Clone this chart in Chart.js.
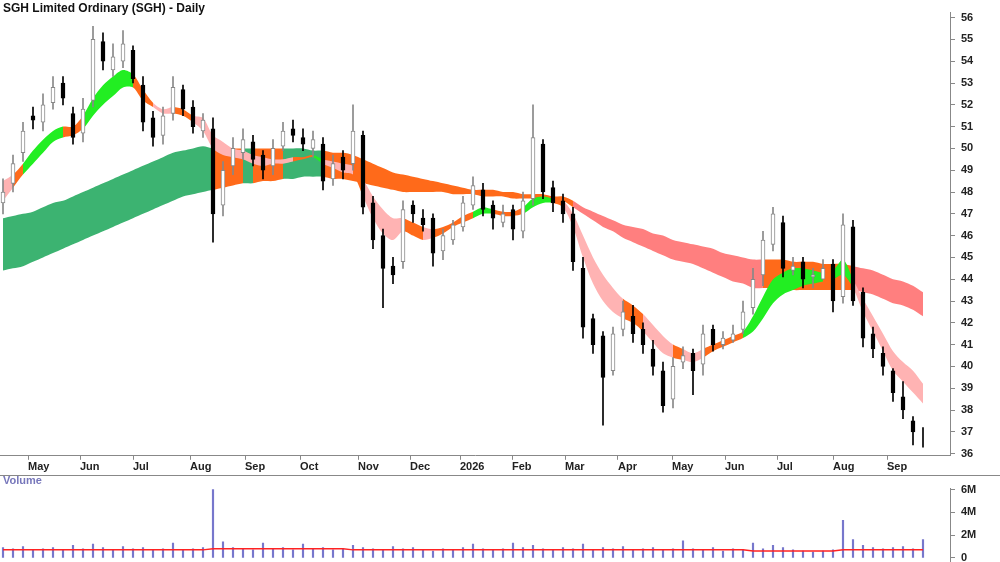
<!DOCTYPE html>
<html><head><meta charset="utf-8">
<script src="https://cdn.jsdelivr.net/npm/chart.js@4/dist/chart.umd.min.js"></script>
<style>
html,body{margin:0;padding:0;background:#fff;width:1000px;height:562px;overflow:hidden;font-family:"Liberation Sans",Arial,sans-serif}
#p{position:absolute;left:0;top:0;width:1000px;height:475px}
#v{position:absolute;left:0;top:475px;width:1000px;height:100px;border-top:1px solid #888;box-sizing:border-box}
#title{position:absolute;left:3px;top:1px;font-size:12px;font-weight:bold;color:#111}
#vol{position:absolute;left:3px;top:474px;font-size:11px;font-weight:bold;color:#7777bb}
</style></head><body>
<div id="p"><canvas id="pc"></canvas></div>
<div id="v"><canvas id="vc"></canvas></div>
<div id="title">SGH Limited Ordinary (SGH) - Daily</div>
<div id="vol">Volume</div>
<script>
const closes=[48,49.3,50.8,51.3,52,52.8,52.3,50.5,51.8,55,54,54.2,54.8,53.2,51.2,50.5,51.5,52.8,51.8,51,51.3,47,49,50,50.4,49.5,49,50,50.8,50.6,50.2,50.4,48.5,49.3,49,50.8,47.3,45.8,44.5,44.2,47.2,47,46.5,45.2,46,46.5,47.5,48.3,47.2,46.8,47,46.3,47.6,50.5,48,47.5,47,44.8,41.8,41,39.5,41.5,42.5,41.5,41,40,38.2,40,40.5,39.8,41.5,41,41.3,41.5,42.5,44,45.8,47,44.5,44.6,44,44.2,44.5,43,46.5,43,41.3,40.8,40,38.8,38,37,36.8];
const opens=[47.5,48.4,49.8,51.5,51.2,52.1,53,51.6,50.7,52.2,54.9,53.6,54,54.5,52.9,51.4,50.6,51.6,52.7,51.9,50.8,50.9,47.4,49.2,49.8,50.3,49.7,49.2,50.1,50.9,50.5,50,50.2,48.6,49.6,49.3,50.6,47.5,46,44.6,44.8,47.4,46.8,46.8,45.3,45.8,46.4,47.4,48.1,47.4,46.6,47.2,46.2,47.7,50.2,48.2,47.6,47,44.5,42.2,41.4,39.8,41.7,42.3,41.7,40.8,39.8,38.5,40.2,40.6,40.1,41.7,41,41.2,41.7,42.7,44.2,45.6,46.6,44.4,44.8,44.1,44,44.7,43.2,46.4,43.4,41.5,40.6,39.8,38.6,37.5];
const highs=[48.6,49.7,51.2,51.9,52.5,53.3,53.3,51.9,52.3,55.6,55.3,54.8,55.4,54.7,53.3,51.7,51.9,53.3,52.9,52.2,51.6,51.4,49.4,50.5,50.9,50.6,49.9,50.4,51.2,51.3,50.9,50.8,50.5,49.7,49.9,52,50.8,47.8,46.3,45,47.6,47.6,47.2,47,46.3,46.7,47.8,48.7,48.4,47.6,47.4,47.4,48,52,50.4,48.5,47.9,47.3,45,42.4,41.6,41.8,43,42.8,42,41.2,40.2,40.4,40.9,40.8,41.9,41.9,41.6,41.9,43,44.5,46.2,47.3,46.9,45,45,44.5,44.9,44.9,47,46.7,43.6,41.8,40.9,39.9,39.3,37.7,37.2];
const lows=[47,48,49.4,50.9,50.8,51.8,52,50.2,50.3,51.9,53.6,53.3,53.7,53,50.8,50.1,50.2,51.3,51.5,50.7,50.5,45.7,46.9,48.8,49.5,49.2,48.6,48.8,49.9,50.3,49.9,49.6,48.1,48.3,48.6,49,47,45.4,42.7,43.8,44.5,46.6,46.2,44.6,44.9,45.6,46.2,47.2,46.9,46.3,46.4,45.8,45.9,47.4,47.7,47.1,46.6,44.4,41.3,40.6,37.3,39.6,41.4,41.1,40.6,39.6,37.9,38.1,39.9,38.7,39.6,40.7,40.8,41.1,41.5,42.4,43.7,45.3,44.1,44.2,43.6,43.6,44,42.5,42.9,42.8,40.9,40.4,39.6,38.4,37.6,36.4,36.3];
const slowUpper=[46.8,46.9,47.0,47.1,47.3,47.5,47.6,47.8,48.0,48.2,48.4,48.6,48.8,49.0,49.2,49.4,49.6,49.8,49.9,50.0,50.1,50.0,50.0,50.0,50.0,50.0,50.0,50.0,50.0,50.0,50.0,49.9,49.9,49.8,49.8,49.7,49.5,49.3,49.1,48.9,48.8,48.7,48.6,48.5,48.4,48.3,48.2,48.1,48.1,48.1,48.0,48.0,47.9,47.9,47.9,47.8,47.8,47.6,47.3,47.1,46.9,46.7,46.5,46.4,46.3,46.1,46.0,45.8,45.7,45.6,45.5,45.4,45.2,45.1,45.0,44.9,44.9,44.9,44.9,44.8,44.8,44.8,44.7,44.7,44.7,44.6,44.5,44.4,44.2,44.0,43.9,43.7,43.4];
const slowLower=[44.4,44.5,44.6,44.8,45.0,45.2,45.4,45.6,45.8,46.0,46.2,46.4,46.6,46.8,47.0,47.2,47.4,47.6,47.8,47.9,48.0,48.1,48.2,48.3,48.4,48.4,48.5,48.5,48.6,48.6,48.7,48.7,48.7,48.6,48.6,48.5,48.4,48.3,48.2,48.1,48.0,48.0,48.0,48.0,48.0,47.9,47.9,47.9,47.8,47.8,47.8,47.7,47.7,47.7,47.6,47.6,47.6,47.3,47.0,46.7,46.4,46.2,45.9,45.7,45.5,45.3,45.1,44.9,44.8,44.7,44.5,44.3,44.1,43.9,43.8,43.6,43.6,43.6,43.6,43.5,43.5,43.5,43.5,43.5,43.5,43.5,43.4,43.3,43.1,42.9,42.8,42.6,42.3];
const slowState=("g".repeat(21)+"ooo"+"g"+"ooo"+"gggg"+"o".repeat(25)+"r".repeat(19)+"o".repeat(9)+"r".repeat(8)).split("");
const fastUpper=[48.5,48.8,49.3,49.9,50.4,50.8,51.0,51.0,51.5,52.3,52.9,53.3,53.6,53.4,52.7,52.1,51.8,51.9,51.8,51.5,51.4,50.6,50.3,50.0,49.9,49.7,49.6,49.5,49.5,49.6,49.6,49.7,49.5,49.4,49.3,49.2,48.6,47.8,47.2,46.8,46.8,46.6,46.4,46.3,46.4,46.6,46.9,47.1,47.3,47.2,47.1,47.1,47.3,47.7,47.8,47.7,47.6,47.0,46.0,45.0,44.2,43.6,43.1,42.8,42.4,41.9,41.4,41.0,40.8,40.6,40.8,41.0,41.2,41.4,41.6,42.3,43.2,44.0,44.3,44.5,44.5,44.4,44.3,44.4,44.9,44.0,43.1,42.3,41.5,40.7,40.2,39.8,39.2];
const fastLower=[47.6,48.2,48.8,49.3,49.8,50.3,50.5,50.6,50.9,51.5,52.0,52.4,52.8,52.8,52.2,51.9,51.6,51.6,51.5,51.2,50.8,50.0,49.7,49.6,49.5,49.3,49.2,49.3,49.3,49.4,49.5,49.6,49.3,49.1,48.9,48.8,47.8,46.8,46.1,45.8,46.2,46.0,45.8,45.9,46.1,46.4,46.6,46.8,47.0,47.0,46.9,46.9,47.0,47.3,47.5,47.5,47.3,46.4,45.0,43.8,43.0,42.5,42.2,42.0,41.6,41.1,40.6,40.4,40.3,40.2,40.4,40.7,40.9,41.1,41.3,41.6,42.2,42.9,43.3,43.5,43.7,43.8,43.9,44.0,44.2,43.6,42.5,41.6,40.7,39.8,39.3,38.8,38.3];
const fastState=("r"+"o"+"gggg"+"oo"+"ggggg"+"oo"+"rr"+"oo"+"rrrrrrrrrr"+"oo"+"g"+"rrr"+"o"+"rrrr"+"oo"+"r"+"oooo"+"gg"+"ooo"+"ggg"+"o"+"rrrrrr"+"oo"+"rrr"+"o"+"rr"+"oooo"+"gggggggg"+"o"+"gg"+"rrrrrrrr").split("");
const volumes=[0.9,0.8,1.0,0.7,0.8,0.9,0.7,1.1,0.8,1.2,0.9,0.7,1.0,0.8,0.9,0.7,0.8,1.3,0.7,0.8,0.9,6.0,1.4,0.9,0.8,0.7,1.3,0.8,0.9,0.7,1.2,0.8,0.9,0.7,0.8,1.1,0.9,0.8,0.7,1.0,0.8,0.9,0.7,0.6,0.8,0.7,0.9,1.2,0.8,0.7,0.8,1.3,0.9,1.1,0.8,0.7,0.9,0.8,1.2,0.7,0.9,0.8,1.0,0.7,0.8,0.9,0.7,0.8,1.5,0.8,0.7,0.9,0.6,0.8,0.7,1.3,0.8,1.1,0.9,0.7,0.6,0.5,0.6,0.7,3.3,1.6,1.1,0.9,0.8,0.9,1.0,0.8,1.6];
const volumeAvg=[0.7,0.7,0.7,0.7,0.7,0.7,0.7,0.7,0.7,0.7,0.7,0.7,0.7,0.7,0.7,0.7,0.7,0.7,0.7,0.7,0.7,0.8,0.8,0.8,0.8,0.8,0.8,0.8,0.8,0.8,0.8,0.8,0.8,0.8,0.8,0.7,0.7,0.7,0.7,0.7,0.7,0.7,0.7,0.7,0.7,0.7,0.7,0.7,0.7,0.7,0.7,0.7,0.7,0.7,0.7,0.7,0.7,0.7,0.7,0.7,0.7,0.7,0.7,0.7,0.7,0.7,0.7,0.7,0.7,0.7,0.7,0.7,0.7,0.7,0.7,0.6,0.6,0.6,0.6,0.6,0.6,0.6,0.6,0.6,0.7,0.7,0.7,0.7,0.7,0.7,0.7,0.7,0.7];
const monthLabels=["May","Jun","Jul","Aug","Sep","Oct","Nov","Dec","2026","Feb","Mar","Apr","May","Jun","Jul","Aug","Sep"];
const monthPos=[2.5,7.7,13,18.7,24.2,29.7,35.5,40.7,45.7,50.9,56.2,61.5,66.9,72.2,77.4,83,88.4];
const priceTicks=[36,37,38,39,40,41,42,43,44,45,46,47,48,49,50,51,52,53,54,55,56];
const volTicks=[0,2,4,6];

const idx=closes.map((_,i)=>i);
const SLOW={g:'#3cb371',o:'#ff6a1a',r:'#ff7f7f'};
const FAST={g:'#22ee22',o:'#ff6a1a',r:'#ffb3b3'};
const up=closes.map((c,i)=>c>=opens[i]);
const xs=(d)=>d.map((v,i)=>({x:i,y:v}));
const XMIN=-0.3,XMAX=94.7;
const font={family:'"Liberation Sans",Arial',size:11,weight:'bold'};
function yRight(extra){return Object.assign({position:'right',border:{color:'#888'},grid:{drawOnChartArea:false,tickLength:5,color:'#888'},afterFit:s=>{s.width=50}},extra);}
const bandLine=(data,st,pal,fillTo,order)=>({type:'line',data:xs(data),borderWidth:0,pointRadius:0,tension:0.3,order,
  fill:fillTo,backgroundColor:pal[st[0]],segment:{backgroundColor:c=>pal[st[c.p0DataIndex]]}});
new Chart(document.getElementById('pc'),{
  data:{datasets:[
    bandLine(slowUpper,slowState,SLOW,'+1',10),
    {type:'line',data:xs(slowLower),borderWidth:0,pointRadius:0,tension:0.3,order:10,fill:false},
    bandLine(fastUpper,fastState,FAST,'+1',9),
    {type:'line',data:xs(fastLower),borderWidth:0,pointRadius:0,tension:0.3,order:9,fill:false},
    {type:'bar',data:idx.map(i=>({x:i,y:[lows[i],highs[i]]})),barThickness:1,backgroundColor:idx.map(i=>up[i]?'#888':'#000'),order:2,grouped:false},
    {type:'bar',data:idx.map(i=>({x:i,y:[Math.min(opens[i],closes[i]),Math.max(opens[i],closes[i])+ (Math.abs(opens[i]-closes[i])<0.05?0.05:0)]})),barThickness:4,
      backgroundColor:idx.map(i=>up[i]?'#fff':'#000'),borderColor:idx.map(i=>up[i]?'#888':'#000'),borderWidth:1,borderSkipped:false,order:1,grouped:false}
  ]},
  options:{animation:false,responsive:true,maintainAspectRatio:false,layout:{padding:0},
    plugins:{legend:{display:false},tooltip:{enabled:false}},
    scales:{
      x:{type:'linear',offset:false,min:XMIN,max:XMAX,border:{color:'#888'},grid:{offset:false,drawOnChartArea:false,tickLength:4,color:'#888'},
        afterBuildTicks:s=>{s.ticks=monthPos.map(v=>({value:v}))},
        ticks:{align:'start',padding:1,color:'#222',font,maxRotation:0,autoSkip:false,callback:(v,i)=>monthLabels[i]}},
      y:yRight({min:35.9,max:56.23,afterBuildTicks:s=>{s.ticks=priceTicks.map(v=>({value:v}))},ticks:{color:'#222',font,padding:6}})
    }}
});
new Chart(document.getElementById('vc'),{
  data:{datasets:[
    {type:'line',data:xs(volumeAvg),borderColor:'#ff2222',borderWidth:1.5,pointRadius:0,order:1},
    {type:'bar',data:xs(volumes),barThickness:1.5,backgroundColor:'#7777cc',order:2}
  ]},
  options:{animation:false,responsive:true,maintainAspectRatio:false,layout:{padding:0},
    plugins:{legend:{display:false},tooltip:{enabled:false}},
    scales:{
      x:{type:'linear',offset:false,min:XMIN,max:XMAX,display:false},
      y:yRight({min:-0.4,max:6.08,afterBuildTicks:s=>{s.ticks=volTicks.map(v=>({value:v}))},ticks:{color:'#222',font,padding:6,callback:v=>v===0?'0':v+'M'}})
    }}
});
</script></body></html>
